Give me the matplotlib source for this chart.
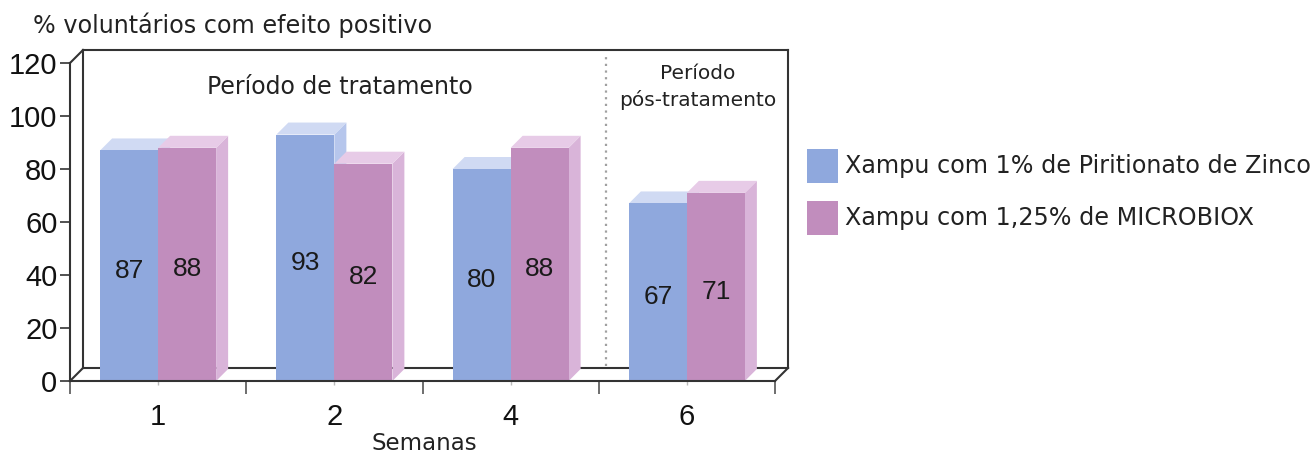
import matplotlib
matplotlib.use("Agg")
import matplotlib.pyplot as plt
from matplotlib.patches import Polygon, Rectangle

# ---- data ----
weeks = ["1", "2", "4", "6"]
zinco = [87, 93, 80, 67]
microbiox = [88, 82, 88, 71]
series_labels = ["Xampu com 1% de Piritionato de Zinco",
                 "Xampu com 1,25% de MICROBIOX"]
y_ticks = [0, 20, 40, 60, 80, 100, 120]
title = "% voluntários com efeito positivo"
xlabel = "Semanas"
period1 = "Período de tratamento"
period2 = "Período\npós-tratamento"

# ---- style ----
W, H = 1315, 455
blue_front, blue_top, blue_side = "#8fa8dd", "#d0daf3", "#b6c6ec"
pink_front, pink_top, pink_side = "#c18dbd", "#e7cbe7", "#d9b4d9"
line_c = "#333333"
txt_font = "DejaVu Sans"
num_font = "Liberation Sans"

fig = plt.figure(figsize=(W / 100, H / 100), dpi=100)
fig.patch.set_facecolor("white")

# axes region: x px 70..775 -> 0..4, y px 381..63 -> 0..120
ax_l, ax_r, ax_b, ax_t = 70, 775, 381, 63
ax = fig.add_axes([ax_l / W, 1 - ax_b / H, (ax_r - ax_l) / W, (ax_b - ax_t) / H])
ax.set_xlim(0, 4)
ax.set_ylim(0, 120)
ax.set_facecolor("none")

pxx = 4 / (ax_r - ax_l)      # data units per px (x)
pxy = 120 / (ax_b - ax_t)    # data units per px (y)
dxb, dyb = 12 * pxx, 12 * pxy   # bar depth
dxw, dyw = 13 * pxx, 13 * pxy   # wall depth
bw = 58 * pxx                   # bar width

# back wall / floor frame
lw = 1.5
frame = dict(color=line_c, lw=lw, clip_on=False, zorder=1)
ax.plot([dxw, 4 + dxw], [dyw, dyw], **frame)
ax.plot([dxw, dxw], [dyw, 120 + dyw], **frame)
ax.plot([dxw, 4 + dxw], [120 + dyw, 120 + dyw], **frame)
ax.plot([4 + dxw, 4 + dxw], [dyw, 120 + dyw], **frame)
ax.plot([0, dxw], [0, dyw], **frame)
ax.plot([4, 4 + dxw], [0, dyw], **frame)
ax.plot([0, dxw], [120, 120 + dyw], **frame)
# dotted separator
ax.plot([3 + 7 * pxx] * 2, [dyw + 2 * pxy, 120 + dyw - 5 * pxy], color="#a0a0a0",
        lw=1.6, ls=(0, (1, 2)), clip_on=False, zorder=1)


def bar3d(x0, h, front, top, side, z):
    x1 = x0 + bw
    ax.add_patch(Polygon([(x1, 0), (x1 + dxb, dyb), (x1 + dxb, h + dyb), (x1, h)],
                         closed=True, facecolor=side, edgecolor="none", zorder=z, clip_on=False))
    ax.add_patch(Polygon([(x0, h), (x1, h), (x1 + dxb, h + dyb), (x0 + dxb, h + dyb)],
                         closed=True, facecolor=top, edgecolor="none", zorder=z, clip_on=False))
    ax.bar([x0], [h], width=bw, align="edge", color=front, edgecolor="none",
           zorder=z, clip_on=False)


lab_off = 5 * pxy
for i, (a, b) in enumerate(zip(zinco, microbiox)):
    c = i + 0.5
    bar3d(c - bw, a, blue_front, blue_top, blue_side, 3)
    bar3d(c, b, pink_front, pink_top, pink_side, 4)
    ax.text(c - bw / 2, a / 2 - lab_off, str(a), ha="center", va="center", fontsize=19,
            family=num_font, color="#1a1a1a", zorder=6)
    ax.text(c + bw / 2, b / 2 - lab_off, str(b), ha="center", va="center", fontsize=19,
            family=num_font, color="#1a1a1a", zorder=6)

# spines: front y-axis and front floor line
for s in ["top", "right"]:
    ax.spines[s].set_visible(False)
for s in ["left", "bottom"]:
    ax.spines[s].set_color(line_c)
    ax.spines[s].set_linewidth(lw)
    ax.spines[s].set_zorder(5)

ax.set_yticks(y_ticks)
ax.set_yticklabels([str(v) for v in y_ticks], fontsize=21, family=num_font, color="#111111")
ax.tick_params(axis="y", direction="out", length=7, width=1.2, color=line_c, pad=2)

ax.set_xticks(range(len(weeks) + 1))
ax.set_xticklabels([""] * (len(weeks) + 1))
ax.tick_params(axis="x", which="major", direction="out", length=9, width=1.2, color="#555555")
ax.set_xticks([i + 0.5 for i in range(len(weeks))], minor=True)
ax.set_xticklabels(weeks, minor=True, fontsize=21, family=num_font, color="#111111")
ax.tick_params(axis="x", which="minor", direction="out", length=3, width=1,
               color="#bbbbbb", pad=13)

# period texts
ax.text((340 - ax_l) * pxx, (ax_b - 87) * pxy, period1, ha="center", va="center",
        fontsize=17, family=txt_font, color="#222222")
ax.text((698 - ax_l) * pxx, (ax_b - 87) * pxy, period2, ha="center", va="center",
        fontsize=14.5, family=txt_font, color="#222222", linespacing=1.4)

# title and x label
fig.text(33 / W, 1 - 25 / H, title, ha="left", va="center", fontsize=17.2,
         family=txt_font, color="#222222")
fig.text(424 / W, 1 - 443 / H, xlabel, ha="center", va="center", fontsize=16.5,
         family=txt_font, color="#222222")

# legend
for k, (lab, col) in enumerate(zip(series_labels, [blue_front, pink_front])):
    yc = 166 + 52 * k
    fig.add_artist(Rectangle((807 / W, 1 - (yc + 17) / H), 31 / W, 34 / H,
                             transform=fig.transFigure, facecolor=col, edgecolor="none"))
    fig.text(845 / W, 1 - yc / H, lab, ha="left", va="center", fontsize=17.2,
             family=txt_font, color="#222222")

fig.savefig("out.png", dpi=100, facecolor="white")
